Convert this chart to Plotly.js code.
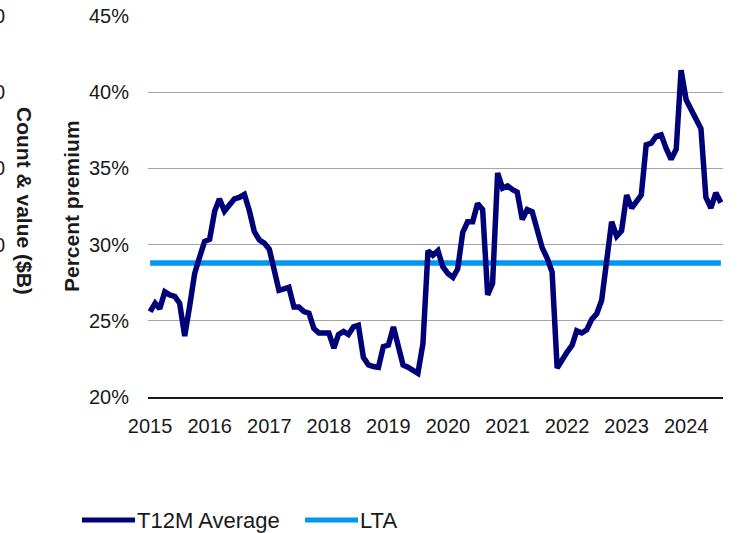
<!DOCTYPE html>
<html>
<head>
<meta charset="utf-8">
<script src="https://cdn.plot.ly/plotly-3.0.1.min.js"></script>
<style>
  html, body { margin: 0; padding: 0; background: #ffffff; }
  #chart { width: 737px; height: 533px; }
</style>
</head>
<body>
<div id="chart"></div>
<script>
// ---- Data ----
const startYear = 2015;
const startMonth = 1;
const yearTickLabels = ["2015","2016","2017","2018","2019","2020","2021","2022","2023","2024"];

// Trailing-12-month average percent premium, monthly from Jan 2015
const t12mAverage = [
  25.6, 26.15, 25.8, 26.9, 26.7, 26.6, 26.15, 24.0, 26.0, 28.1, 29.2, 30.2,
  30.35, 32.2, 33.0, 32.2, 32.6, 33.0, 33.1, 33.3, 32.2, 30.85, 30.3, 30.1,
  29.7, 28.4, 27.0, 27.1, 27.2, 25.9, 25.9, 25.6, 25.5, 24.5, 24.2, 24.2,
  24.2, 23.2, 24.1, 24.3, 24.1, 24.6, 24.7, 22.6, 22.1, 22.0, 21.95, 23.3,
  23.4, 24.6, 23.4, 22.1, 21.95, 21.75, 21.55, 23.5, 29.6, 29.3, 29.6, 28.55,
  28.1, 27.85, 28.4, 30.8, 31.5, 31.5, 32.7, 32.3, 26.7, 27.45, 34.7, 33.7,
  33.85, 33.6, 33.45, 31.65, 32.3, 32.15, 30.85, 29.8, 29.1, 28.2, 21.9, 22.5,
  22.95, 23.4, 24.35, 24.2, 24.4, 25.1, 25.45, 26.35, 28.95, 31.5, 30.55, 30.9,
  33.25, 32.4, 32.8, 33.25, 36.55, 36.65, 37.1, 37.2, 36.3, 35.6, 36.25, 41.45,
  39.5, 38.8, 38.2, 37.6, 33.1, 32.4, 33.4, 32.75
];

// Long-term average
const ltaValue = 28.8;

const seriesNames = ["T12M Average", "LTA"];
const yTickValues = [20, 25, 30, 35, 40, 45];
const yTickLabels = ["20%", "25%", "30%", "35%", "40%", "45%"];

// ---- Build month dates for the x axis ----
const dates = [];
for (let i = 0; i < t12mAverage.length; i++) {
  const m0 = (startMonth - 1) + i;
  const y = startYear + Math.floor(m0 / 12);
  const m = (m0 % 12) + 1;
  dates.push(y + "-" + String(m).padStart(2, "0") + "-01");
}
const yearTickVals = yearTickLabels.map(y => y + "-01-01");

const NAVY = "#000078";
const LIGHT = "#0098EE";
const FONT = "'Liberation Sans', Arial, sans-serif";

// plot area in pixels: x 148..723, y 16..397
const L = 148, R = 723, T = 16, B = 397;
const px = x => (x - L) / (R - L);
const py = y => (B - y) / (B - T);

const traces = [
  {
    x: [dates[0], dates[dates.length - 1]],
    y: [ltaValue, ltaValue],
    type: "scatter",
    mode: "lines",
    name: seriesNames[1],
    line: { color: LIGHT, width: 5.5 },
    showlegend: false,
    hoverinfo: "skip"
  },
  {
    x: dates,
    y: t12mAverage,
    type: "scatter",
    mode: "lines",
    name: seriesNames[0],
    line: { color: NAVY, width: 5.5 },
    showlegend: false
  }
];

const annotations = [
  {
    xref: "paper", yref: "paper",
    x: px(71), y: py(206),
    text: "<b>Percent premium</b>",
    textangle: -90,
    showarrow: false,
    xanchor: "center", yanchor: "middle",
    font: { family: FONT, size: 21, color: "#1a1a1a" }
  },
  {
    xref: "paper", yref: "paper",
    x: px(24), y: py(201),
    text: "<b>Count & value ($B)</b>",
    textangle: 90,
    showarrow: false,
    xanchor: "center", yanchor: "middle",
    font: { family: FONT, size: 21, color: "#1a1a1a" }
  },
  // legend texts
  {
    xref: "paper", yref: "paper",
    x: px(135), y: py(520),
    text: seriesNames[0],
    showarrow: false,
    xanchor: "left", yanchor: "middle",
    font: { family: FONT, size: 22, color: "#1a1a1a" }
  },
  {
    xref: "paper", yref: "paper",
    x: px(358), y: py(520),
    text: seriesNames[1],
    showarrow: false,
    xanchor: "left", yanchor: "middle",
    font: { family: FONT, size: 22, color: "#1a1a1a" }
  }
];

// cut-off secondary axis tick labels at far left (partially visible in the reference)
[45, 40, 35, 30].forEach(v => {
  annotations.push({
    xref: "paper", yref: "y",
    x: px(7), y: v,
    text: "0",
    showarrow: false,
    xanchor: "right", yanchor: "middle",
    font: { family: FONT, size: 20, color: "#1a1a1a" }
  });
});

const shapes = [
  { type: "line", xref: "paper", yref: "paper",
    x0: px(82), x1: px(135), y0: py(520), y1: py(520),
    line: { color: NAVY, width: 5 } },
  { type: "line", xref: "paper", yref: "paper",
    x0: px(305), x1: px(358), y0: py(520), y1: py(520),
    line: { color: LIGHT, width: 5 } }
];

const layout = {
  width: 737,
  height: 533,
  margin: { l: L, r: 737 - R, t: T, b: 533 - B, pad: 0 },
  paper_bgcolor: "#ffffff",
  plot_bgcolor: "#ffffff",
  font: { family: FONT, size: 20, color: "#1a1a1a" },
  showlegend: false,
  xaxis: {
    type: "date",
    range: ["2014-12-19", "2024-08-14"],
    tickvals: yearTickVals,
    ticktext: yearTickLabels,
    showgrid: false,
    zeroline: false,
    showline: true,
    linecolor: "#1a1a1a",
    linewidth: 2,
    ticks: "",
    ticklabelstandoff: 10,
    tickfont: { family: FONT, size: 20, color: "#1a1a1a" },
    fixedrange: true
  },
  yaxis: {
    range: [20, 45],
    tickvals: yTickValues,
    ticktext: yTickLabels,
    showgrid: true,
    gridcolor: "#a6a6a6",
    gridwidth: 1,
    zeroline: false,
    showline: false,
    ticks: "",
    ticklabelstandoff: 18,
    tickfont: { family: FONT, size: 20, color: "#1a1a1a" },
    fixedrange: true
  },
  annotations: annotations,
  shapes: shapes
};

Plotly.newPlot("chart", traces, layout, { displayModeBar: false, staticPlot: true });
</script>
</body>
</html>
